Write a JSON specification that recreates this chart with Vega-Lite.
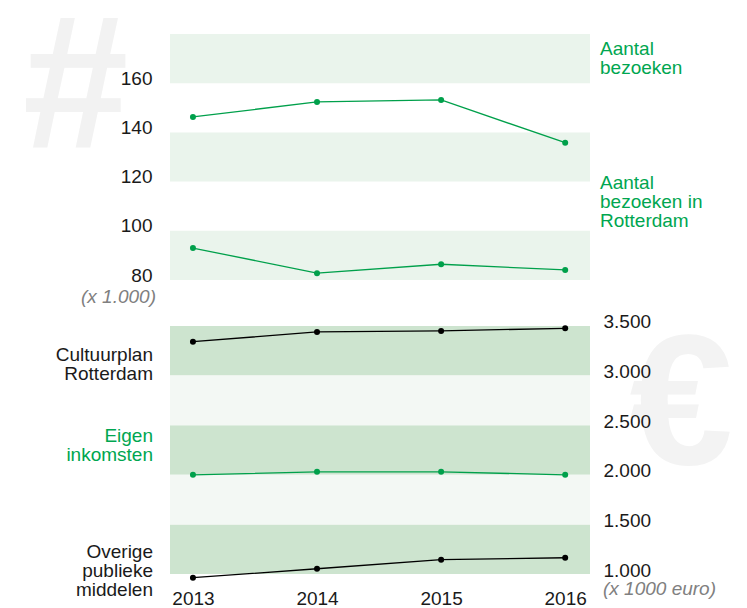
{
  "$schema": "https://vega.github.io/schema/vega-lite/v6.json",
  "width": 420,
  "height": 540,
  "autosize": {"type": "none"},
  "padding": {"left": 170, "top": 34, "right": 157, "bottom": 34},
  "background": "white",
  "config": {
    "view": {"stroke": null},
    "font": "Liberation Sans",
    "axis": {"domain": false, "ticks": false, "grid": false, "labelFont": "Liberation Sans", "labelFontSize": 19, "labelColor": "#1a1a1a", "title": null}
  },
  "datasets": {
    "visits": [
      {"series": "Aantal bezoeken", "year": 2013, "value": 146.3},
      {"series": "Aantal bezoeken", "year": 2014, "value": 152.4},
      {"series": "Aantal bezoeken", "year": 2015, "value": 153.2},
      {"series": "Aantal bezoeken", "year": 2016, "value": 135.8},
      {"series": "Aantal bezoeken in Rotterdam", "year": 2013, "value": 93.0},
      {"series": "Aantal bezoeken in Rotterdam", "year": 2014, "value": 82.8},
      {"series": "Aantal bezoeken in Rotterdam", "year": 2015, "value": 86.4},
      {"series": "Aantal bezoeken in Rotterdam", "year": 2016, "value": 84.1}
    ],
    "money": [
      {"series": "Cultuurplan Rotterdam", "year": 2013, "value": 3342},
      {"series": "Cultuurplan Rotterdam", "year": 2014, "value": 3440},
      {"series": "Cultuurplan Rotterdam", "year": 2015, "value": 3450},
      {"series": "Cultuurplan Rotterdam", "year": 2016, "value": 3477},
      {"series": "Eigen inkomsten", "year": 2013, "value": 2000},
      {"series": "Eigen inkomsten", "year": 2014, "value": 2030},
      {"series": "Eigen inkomsten", "year": 2015, "value": 2030},
      {"series": "Eigen inkomsten", "year": 2016, "value": 2000},
      {"series": "Overige publieke middelen", "year": 2013, "value": 963},
      {"series": "Overige publieke middelen", "year": 2014, "value": 1053},
      {"series": "Overige publieke middelen", "year": 2015, "value": 1144},
      {"series": "Overige publieke middelen", "year": 2016, "value": 1164}
    ],
    "bandsTop": [
      {"lo": 80, "hi": 100},
      {"lo": 120, "hi": 140},
      {"lo": 160, "hi": 180}
    ],
    "bandsDark": [
      {"lo": 1000, "hi": 1500},
      {"lo": 2000, "hi": 2500},
      {"lo": 3000, "hi": 3500}
    ],
    "bandsLight": [
      {"lo": 1500, "hi": 2000},
      {"lo": 2500, "hi": 3000}
    ]
  },
  "layer": [
    {
      "layer": [
        {
          "data": {"values": [{"glyph": "#"}]},
          "mark": {"type": "text", "fontSize": 190, "fontWeight": "bold", "color": "#f2f2f2", "align": "center", "baseline": "alphabetic"},
          "encoding": {
            "text": {"field": "glyph"},
            "x": {"datum": 2012.055, "type": "quantitative"},
            "y": {"datum": 134, "type": "quantitative"}
          }
        },
        {
          "data": {"name": "bandsTop"},
          "mark": {"type": "rect", "color": "#eaf4ec"},
          "encoding": {
            "y": {"field": "lo", "type": "quantitative", "scale": {"domain": [-39.5, 180], "nice": false, "zero": false},
              "axis": {"orient": "left", "values": [80, 100, 120, 140, 160], "labelPadding": 18, "labelBaseline": "alphabetic", "labelOffset": 1, "title": null, "zindex": 1}},
            "y2": {"field": "hi"}
          }
        },
        {
          "data": {"name": "visits"},
          "mark": {"type": "line", "color": "#00a04b", "strokeWidth": 1.3},
          "encoding": {
            "x": {"field": "year", "type": "quantitative", "scale": {"domain": [2012.815, 2016.2], "nice": false, "zero": false},
              "axis": {"orient": "bottom", "values": [2013, 2014, 2015, 2016], "format": "d", "labelPadding": 15, "title": null, "zindex": 1}},
            "y": {"field": "value", "type": "quantitative"},
            "detail": {"field": "series"}
          }
        },
        {
          "data": {"name": "visits"},
          "mark": {"type": "point", "filled": true, "size": 36, "opacity": 1, "color": "#00a04b"},
          "encoding": {
            "x": {"field": "year", "type": "quantitative"},
            "y": {"field": "value", "type": "quantitative"}
          }
        },
        {
          "data": {"values": [{"label": ["Aantal", "bezoeken"]}]},
          "mark": {"type": "text", "fontSize": 19, "lineHeight": 19, "color": "#00a650", "align": "left", "baseline": "middle", "dx": 10},
          "encoding": {
            "text": {"field": "label"},
            "x": {"datum": 2016.2, "type": "quantitative"},
            "y": {"datum": 174, "type": "quantitative"}
          }
        },
        {
          "data": {"values": [{"label": ["Aantal", "bezoeken in", "Rotterdam"]}]},
          "mark": {"type": "text", "fontSize": 19, "lineHeight": 19, "color": "#00a650", "align": "left", "baseline": "middle", "dx": 10},
          "encoding": {
            "text": {"field": "label"},
            "x": {"datum": 2016.2, "type": "quantitative"},
            "y": {"datum": 119.3, "type": "quantitative"}
          }
        },
        {
          "data": {"values": [{"label": "(x 1.000)"}]},
          "mark": {"type": "text", "fontSize": 19, "fontStyle": "italic", "color": "#808080", "align": "right", "baseline": "alphabetic", "dx": -14, "dy": 23},
          "encoding": {
            "text": {"field": "label"},
            "x": {"datum": 2012.815, "type": "quantitative"},
            "y": {"datum": 80, "type": "quantitative"}
          }
        }
      ]
    },
    {
      "layer": [
        {
          "data": {"values": [{"glyph": "€"}]},
          "mark": {"type": "text", "fontSize": 186, "fontWeight": "bold", "color": "#f3f3f3", "align": "center", "baseline": "alphabetic"},
          "encoding": {
            "text": {"field": "glyph"},
            "x": {"datum": 2016.936, "type": "quantitative"},
            "y": {"datum": 2110, "type": "quantitative"}
          }
        },
        {
          "data": {"name": "bandsDark"},
          "mark": {"type": "rect", "color": "#cde4cf"},
          "encoding": {
            "y": {"field": "lo", "type": "quantitative", "scale": {"domain": [1000, 6443.5], "nice": false, "zero": false},
              "axis": {"orient": "right", "values": [1000, 1500, 2000, 2500, 3000, 3500], "labelPadding": 13, "labelBaseline": "alphabetic", "labelOffset": 2, "title": null, "zindex": 1,
                "labelExpr": "replace(format(datum.value, ','), ',', '.')"}},
            "y2": {"field": "hi"}
          }
        },
        {
          "data": {"name": "bandsLight"},
          "mark": {"type": "rect", "color": "#f3f8f4"},
          "encoding": {
            "y": {"field": "lo", "type": "quantitative"},
            "y2": {"field": "hi"}
          }
        },
        {
          "data": {"name": "money"},
          "mark": {"type": "line", "strokeWidth": 1.3},
          "encoding": {
            "x": {"field": "year", "type": "quantitative"},
            "y": {"field": "value", "type": "quantitative"},
            "color": {"field": "series", "type": "nominal", "legend": null,
              "scale": {"domain": ["Cultuurplan Rotterdam", "Eigen inkomsten", "Overige publieke middelen"], "range": ["#000000", "#00a04b", "#000000"]}}
          }
        },
        {
          "data": {"name": "money"},
          "mark": {"type": "point", "filled": true, "size": 36, "opacity": 1},
          "encoding": {
            "x": {"field": "year", "type": "quantitative"},
            "y": {"field": "value", "type": "quantitative"},
            "color": {"field": "series", "type": "nominal", "legend": null}
          }
        },
        {
          "data": {"values": [{"label": ["Cultuurplan", "Rotterdam"]}]},
          "mark": {"type": "text", "fontSize": 19, "lineHeight": 19, "color": "#1a1a1a", "align": "right", "baseline": "middle", "dx": -17},
          "encoding": {
            "text": {"field": "label"},
            "x": {"datum": 2012.815, "type": "quantitative"},
            "y": {"datum": 3211, "type": "quantitative"}
          }
        },
        {
          "data": {"values": [{"label": ["Eigen", "inkomsten"]}]},
          "mark": {"type": "text", "fontSize": 19, "lineHeight": 19, "color": "#00a650", "align": "right", "baseline": "middle", "dx": -17},
          "encoding": {
            "text": {"field": "label"},
            "x": {"datum": 2012.815, "type": "quantitative"},
            "y": {"datum": 2393, "type": "quantitative"}
          }
        },
        {
          "data": {"values": [{"label": ["Overige", "publieke", "middelen"]}]},
          "mark": {"type": "text", "fontSize": 19, "lineHeight": 19, "color": "#1a1a1a", "align": "right", "baseline": "middle", "dx": -17},
          "encoding": {
            "text": {"field": "label"},
            "x": {"datum": 2012.815, "type": "quantitative"},
            "y": {"datum": 1218, "type": "quantitative"}
          }
        },
        {
          "data": {"values": [{"label": "(x 1000 euro)"}]},
          "mark": {"type": "text", "fontSize": 19, "fontStyle": "italic", "color": "#808080", "align": "left", "baseline": "alphabetic", "dx": 13, "dy": 21},
          "encoding": {
            "text": {"field": "label"},
            "x": {"datum": 2016.2, "type": "quantitative"},
            "y": {"datum": 1000, "type": "quantitative"}
          }
        }
      ]
    }
  ],
  "resolve": {"scale": {"y": "independent"}, "axis": {"y": "independent"}}
}
